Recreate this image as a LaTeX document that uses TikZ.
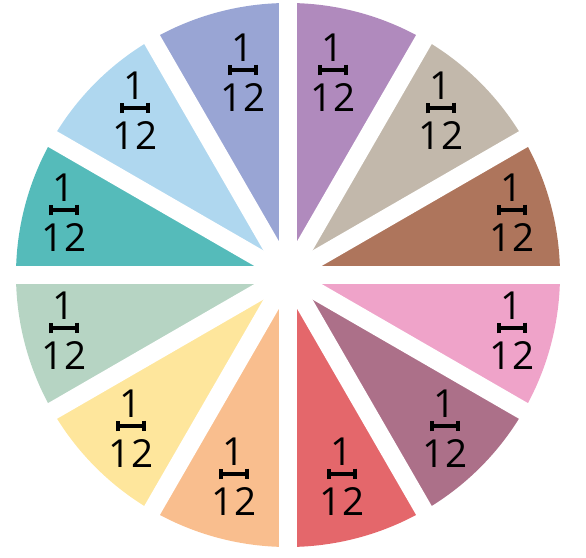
\documentclass[tikz,border=0pt]{standalone}
\usepackage{fontspec}
\setmainfont{Open Sans}
\usetikzlibrary{positioning,arrows.meta}

\definecolor{cPurple}{HTML}{B08ABD}
\definecolor{cBeige}{HTML}{C2B8AB}
\definecolor{cBrown}{HTML}{AE755C}
\definecolor{cPink}{HTML}{EFA3C9}
\definecolor{cMauve}{HTML}{AC7089}
\definecolor{cRed}{HTML}{E4676B}
\definecolor{cPeach}{HTML}{F9BE8E}
\definecolor{cYellow}{HTML}{FEE69C}
\definecolor{cSage}{HTML}{B6D4C3}
\definecolor{cTeal}{HTML}{55BBBA}
\definecolor{cSky}{HTML}{AFD7EF}
\definecolor{cPeri}{HTML}{99A5D4}

\tikzset{
  digit/.style={inner sep=0pt, font=\fontsize{22}{26}\selectfont},
  fracbar/.style={line width=2pt, {Bar[width=6pt,line width=2pt]}-{Bar[width=6pt,line width=2pt]}},
  gap/.style={white, line width=0.36cm}
}

\begin{document}
\begin{tikzpicture}[x=0.02cm, y=0.02cm]
  \useasboundingbox (-288,-283) rectangle (298,275);

  % twelve slices, counter-clockwise from the right
  \foreach \a/\c in {
      0/cBrown, 30/cBeige, 60/cPurple, 90/cPeri, 120/cSky, 150/cTeal,
      180/cSage, 210/cYellow, 240/cPeach, 270/cRed, 300/cMauve, 330/cPink} {
    \fill[\c] (0,0) -- (\a:272) arc[start angle=\a, end angle=\a+30, radius=272] -- cycle;
  }

  % white gaps between the slices
  \foreach \a in {0,30,...,150}
    \draw[gap] (\a+180:290) -- (\a:290);

  % labels
  \foreach \x/\y [count=\i] in {
      224/65, 153/167, 45/205, -45/205, -153/167, -224/65,
      -224/-53, -157/-151, -54/-199, 54/-199, 157/-151, 224/-53} {
    \coordinate (b\i) at (\x,\y);
    \node[digit, anchor=south] (n\i) at ([yshift=0.16cm]b\i) {1};
    \node[digit, anchor=north] (d\i) at ([yshift=-0.26cm]b\i) {12};
    \draw[fracbar] ([xshift=-0.3cm]b\i) -- ([xshift=0.3cm]b\i);
  }
\end{tikzpicture}
\end{document}
